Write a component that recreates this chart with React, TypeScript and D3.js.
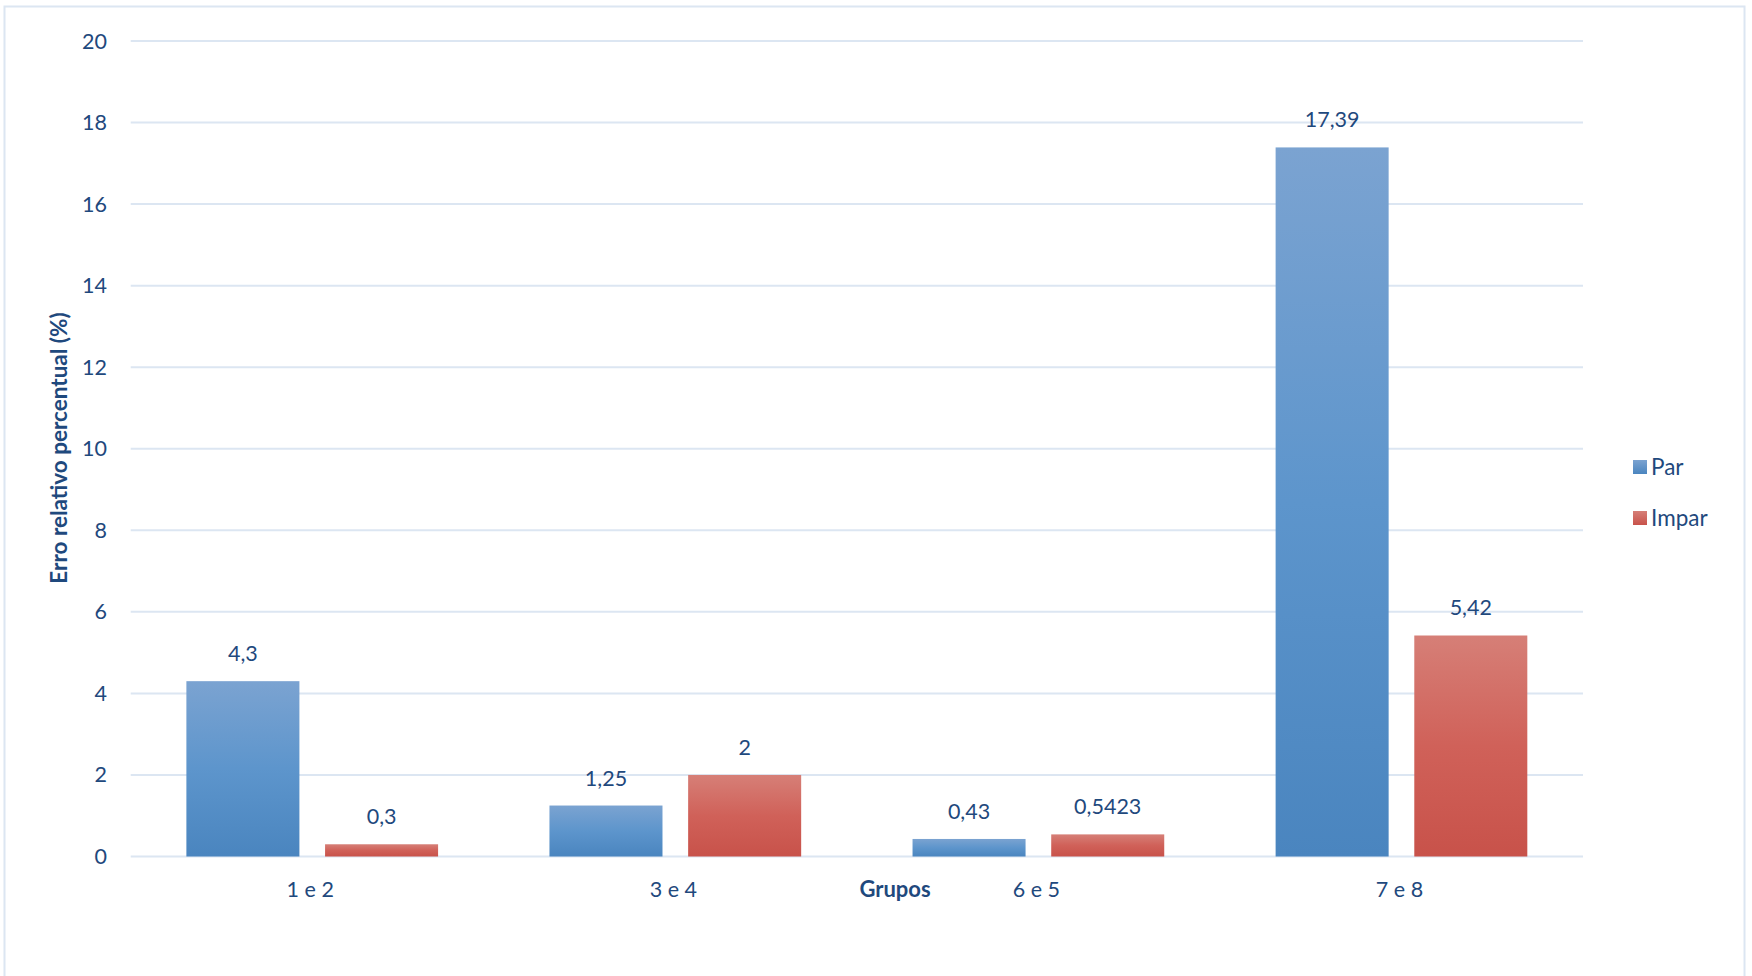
import React from "react";
import * as d3 from "d3";

const categories = ["1 e 2", "3 e 4", "6 e 5", "7 e 8"];
const seriesNames = ["Par", "Impar"];
const parValues = [4.3, 1.25, 0.43, 17.39];
const imparValues = [0.3, 2, 0.5423, 5.42];
const parLabels = ["4,3", "1,25", "0,43", "17,39"];
const imparLabels = ["0,3", "2", "0,5423", "5,42"];
const yTicks = [0, 2, 4, 6, 8, 10, 12, 14, 16, 18, 20];

const W = 1752;
const H = 976;
const FONT = "Lato, 'Open Sans', sans-serif";
const TEXT = "#1F497D";
const FS = 21.5;

export default function App() {
  const plotL = 130.7;
  const plotR = 1583;
  const y = d3.scaleLinear().domain([0, 20]).range([856.5, 41]);
  const x0 = d3.scaleBand<string>().domain(categories).range([plotL, plotR]).paddingInner(0).paddingOuter(0);
  const groupW = 251.7;
  const x1 = d3
    .scaleBand<string>()
    .domain(seriesNames)
    .range([(x0.bandwidth() - groupW) / 2, (x0.bandwidth() + groupW) / 2])
    .paddingInner(0.185)
    .paddingOuter(0);

  const data = [
    { name: "Par", values: parValues, labels: parLabels, grad: "gBlue" },
    { name: "Impar", values: imparValues, labels: imparLabels, grad: "gRed" },
  ];

  return (
    <svg width={W} height={H} style={{ position: "absolute", left: 0, top: 0 }} fontFamily={FONT}>
      <defs>
        <linearGradient id="gBlue" x1="0" y1="0" x2="0" y2="1">
          <stop offset="0%" stopColor="#7BA3D1" />
          <stop offset="50%" stopColor="#5D95CC" />
          <stop offset="100%" stopColor="#4A85BF" />
        </linearGradient>
        <linearGradient id="gRed" x1="0" y1="0" x2="0" y2="1">
          <stop offset="0%" stopColor="#D67F77" />
          <stop offset="50%" stopColor="#D06159" />
          <stop offset="100%" stopColor="#C8524A" />
        </linearGradient>
        <linearGradient id="gBlueL" x1="0" y1="0" x2="0" y2="1">
          <stop offset="0%" stopColor="#7BA3D1" />
          <stop offset="100%" stopColor="#4A85BF" />
        </linearGradient>
        <linearGradient id="gRedL" x1="0" y1="0" x2="0" y2="1">
          <stop offset="0%" stopColor="#D67F77" />
          <stop offset="100%" stopColor="#C8524A" />
        </linearGradient>
      </defs>
      <rect x={0} y={0} width={W} height={H} fill="#fff" />
      <rect x={4.5} y={6.5} width={1740} height={H + 20} fill="none" stroke="#DCE6F2" strokeWidth={2} />

      {yTicks.map((t) => (
        <g key={t}>
          <line x1={plotL} x2={plotR} y1={y(t)} y2={y(t)} stroke="#DCE6F2" strokeWidth={2} />
          <text x={107} y={y(t) + 7.5} textAnchor="end" fontSize={FS} fill={TEXT}>
            {t}
          </text>
        </g>
      ))}

      {data.map((s) =>
        categories.map((c, i) => {
          const bx = (x0(c) as number) + (x1(s.name) as number);
          const bw = x1.bandwidth();
          const top = y(s.values[i]);
          return (
            <g key={s.name + c}>
              <rect x={bx} y={top} width={bw} height={y(0) - top} fill={`url(#${s.grad})`} />
              <text x={bx + bw / 2} y={top - 20} textAnchor="middle" fontSize={FS} fill={TEXT}>
                {s.labels[i]}
              </text>
            </g>
          );
        })
      )}

      {categories.map((c) => (
        <text key={c} x={(x0(c) as number) + x0.bandwidth() / 2 - 2} y={896.5} textAnchor="middle" fontSize={FS} fill={TEXT}>
          {c}
        </text>
      ))}

      <text x={895} y={896.5} textAnchor="middle" fontSize={22} fontWeight="bold" fill={TEXT}>
        Grupos
      </text>

      <text
        transform={`translate(${67},${448}) rotate(-90)`}
        textAnchor="middle"
        fontSize={22.5}
        fontWeight="bold"
        fill={TEXT}
      >
        Erro relativo percentual (%)
      </text>

      {seriesNames.map((n, i) => (
        <g key={n} transform={`translate(1633,${467 + i * 51})`}>
          <rect x={0} y={-7} width={14} height={14} fill={i === 0 ? "url(#gBlueL)" : "url(#gRedL)"} />
          <text x={18} y={7.5} fontSize={22.5} fill={TEXT}>
            {n}
          </text>
        </g>
      ))}
    </svg>
  );
}
